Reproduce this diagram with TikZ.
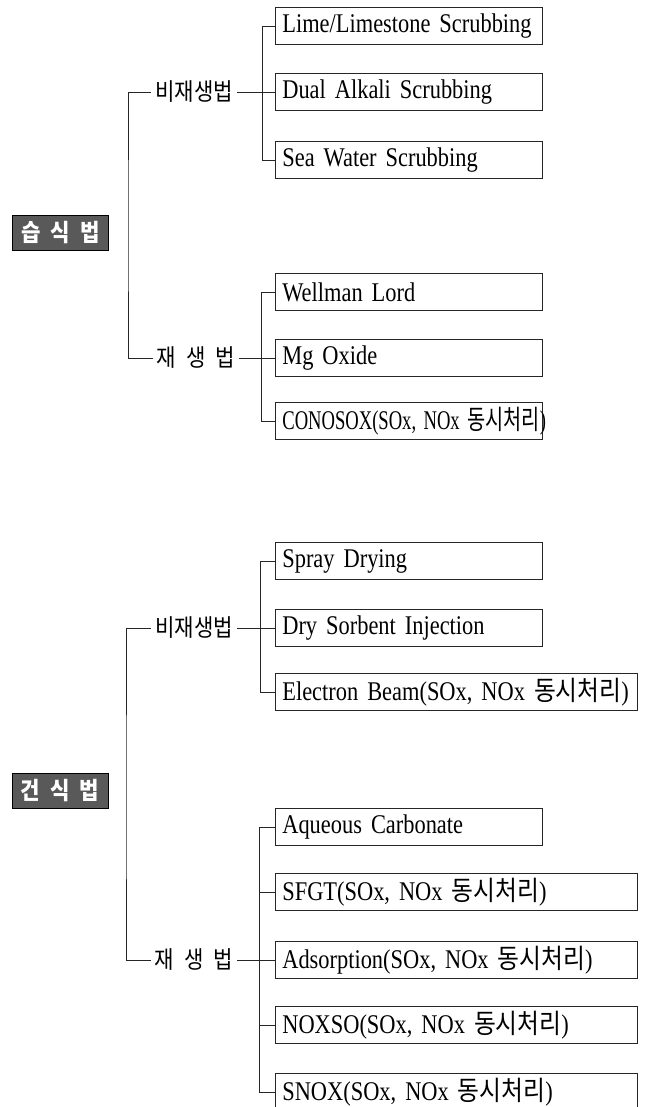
\documentclass[tikz,border=0pt]{standalone}
\usepackage{fontspec}
\usepackage{graphicx}
\setmainfont{Liberation Serif}[FakeStretch=0.83]
\newfontfamily\kr{Noto Sans CJK KR}[FakeStretch=0.88]
\newcommand{\squeezetext}[2]{\scalebox{#1}[1]{#2}}
\begin{document}
\begin{tikzpicture}[x=1pt,y=-1pt]
\tikzset{
 conn/.style={draw=black!85, line width=0.7pt},
 sbox/.style={draw=black!85, line width=0.7pt, anchor=west, minimum height=37pt, inner xsep=7pt, inner ysep=0pt, align=left, text width=253pt, font=\fontsize{27}{29}\selectfont},
 lbox/.style={sbox, text width=348pt},
 grp/.style={inner sep=4pt, font=\kr\fontsize{24}{26}\selectfont},
 catbox/.style={draw=black, line width=0.8pt, fill=black!65, text=white, minimum width=96pt, minimum height=35pt, inner sep=0pt, font=\kr\bfseries\fontsize{24}{26}\selectfont},
}
\useasboundingbox (0,0) rectangle (649,1107);
\clip (0,0) rectangle (649,1107);

% ---------- wet ----------
\node[catbox] (wet) at (60.5,232.5) {습\hspace{10pt}식\hspace{10pt}법};
\node[grp] (wnr) at (194,92) {비재생법};
\node[grp] (wr) at (196,358) {재\hspace{10pt}생\hspace{10pt}법};

\node[sbox] (w1) at (275,26) {Lime/Limestone Scrubbing};
\node[sbox] (w2) at (275,92) {Dual Alkali Scrubbing};
\node[sbox] (w3) at (275,160) {Sea Water Scrubbing};
\node[sbox] (w4) at (275,292) {Wellman Lord};
\node[sbox] (w5) at (275,358) {Mg Oxide};
\node[sbox] (w6) at (275,421) {\squeezetext{0.83}{CONOSOX(SOx, NOx {\kr 동시처리})}};

\coordinate (wm) at (128,226);
\draw[conn] (wnr.west) -| (wm) |- (wr.west);
\draw[conn] (wnr.east) -- (w2.west);
\draw[conn] (w1.west) -- ++(-13,0) |- (w3.west);
\draw[conn] (wr.east) -- (w5.west);
\draw[conn] (w4.west) -- ++(-14,0) |- (w6.west);

% ---------- dry ----------
\node[catbox] (dry) at (60,790.5) {건\hspace{10pt}식\hspace{10pt}법};
\node[grp] (dnr) at (194,628) {비재생법};
\node[grp] (dr) at (194,960) {재\hspace{10pt}생\hspace{10pt}법};

\node[sbox] (d1) at (275,561) {Spray Drying};
\node[sbox] (d2) at (275,628) {Dry Sorbent Injection};
\node[lbox] (d3) at (275,692) {Electron Beam(SOx, NOx {\kr 동시처리})};
\node[sbox] (d4) at (275,827) {Aqueous Carbonate};
\node[lbox] (d5) at (275,892) {SFGT(SOx, NOx {\kr 동시처리})};
\node[lbox] (d6) at (275,960) {Adsorption(SOx, NOx {\kr 동시처리})};
\node[lbox] (d7) at (275,1025) {NOXSO(SOx, NOx {\kr 동시처리})};
\node[lbox] (d8) at (275,1092) {SNOX(SOx, NOx {\kr 동시처리})};

\coordinate (dm) at (126,800);
\draw[conn] (dnr.west) -| (dm) |- (dr.west);
\draw[conn] (dnr.east) -- (d2.west);
\draw[conn] (d1.west) -- ++(-15,0) |- (d3.west);
\draw[conn] (dr.east) -- (d6.west);
\draw[conn] (d4.west) -- ++(-16,0) |- (d8.west);
\draw[conn] (d5.west) -- ++(-16,0);
\draw[conn] (d7.west) -- ++(-16,0);
\end{tikzpicture}
\end{document}
